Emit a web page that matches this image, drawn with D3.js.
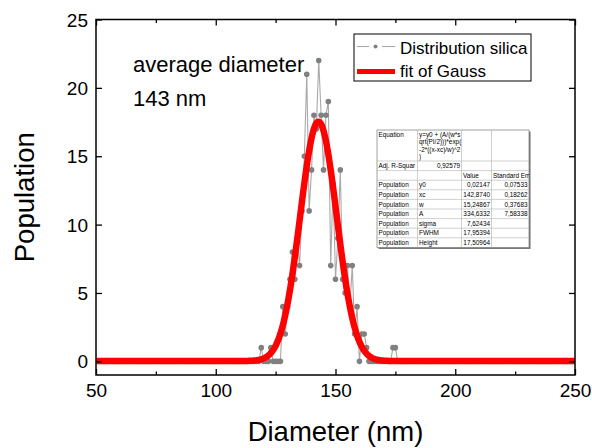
<!DOCTYPE html>
<html>
<head>
<meta charset="utf-8">
<script src="https://cdn.jsdelivr.net/npm/d3@7/dist/d3.min.js"></script>
<style>
  body { margin: 0; background: #fff; }
  svg { display: block; font-family: Arial, 'Liberation Sans', sans-serif; }
</style>
</head>
<body>
<div id="main"></div>
<script>
// histogram: one count per nm, 50..250
const diameters = d3.range(50, 251);
const counts = [
  0, 0, 0, 0, 0, 0, 0, 0, 0, 0, 0, 0, 0, 0, 0, 0, 0, 0, 0, 0, // 50-69
  0, 0, 0, 0, 0, 0, 0, 0, 0, 0, 0, 0, 0, 0, 0, 0, 0, 0, 0, 0, // 70-89
  0, 0, 0, 0, 0, 0, 0, 0, 0, 0, 0, 0, 0, 0, 0, 0, 0, 0, 0, 0, // 90-109
  0, 0, 0, 0, 0, 0, 0, 0, 0, 1, 0, 0, 0, 1, 0, 0, 0, 0, 4, 2, // 110-129
  4, 6, 8, 6, 9, 7, 11, 15, 21, 11, 14, 18, 17, 22, 18, 14, 18, 19, 7, 13, // 130-149
  6, 9, 14, 6, 5, 7, 4, 7, 2, 4, 0, 2, 2, 1, 0, 0, 0, 0, 0, 0, // 150-169
  0, 0, 0, 0, 1, 1, 0, 0, 0, 0, 0, 0, 0, 0, 0, 0, 0, 0, 0, 0, // 170-189
  0, 0, 0, 0, 0, 0, 0, 0, 0, 0, 0, 0, 0, 0, 0, 0, 0, 0, 0, 0, // 190-209
  0, 0, 0, 0, 0, 0, 0, 0, 0, 0, 0, 0, 0, 0, 0, 0, 0, 0, 0, 0, // 210-229
  0, 0, 0, 0, 0, 0, 0, 0, 0, 0, 0, 0, 0, 0, 0, 0, 0, 0, 0, 0, // 230-249
  0 // 250
];

// Gauss fit parameters (from the fit table)
const fitY0 = 0.02147;
const fitXc = 142.874;
const fitW = 15.24867;
const fitA = 334.6332;

const xTicks = [50, 100, 150, 200, 250];
const xMinorTicks = [75, 125, 175, 225];
const yTicks = [0, 5, 10, 15, 20, 25];

const legendLabels = ['Distribution silica', 'fit of Gauss'];
const noteLines = ['average diameter', '143 nm'];

const tableRows = [
  ['Equation', 'y=y0 + (A/(w*s|qrt(PI/2)))*exp(|-2*((x-xc)/w)^2|)', '', ''],
  ['Adj. R-Squar', '0,92579', '', ''],
  ['', '', 'Value', 'Standard Err'],
  ['Population', 'y0', '0,02147', '0,07533'],
  ['Population', 'xc', '142,8740', '0,18262'],
  ['Population', 'w', '15,24867', '0,37683'],
  ['Population', 'A', '334,6332', '7,58338'],
  ['Population', 'sigma', '7,62434', ''],
  ['Population', 'FWHM', '17,95394', ''],
  ['Population', 'Height', '17,50964', '']
];

function gauss(x) {
  const k = (x - fitXc) / fitW;
  return fitY0 + (fitA / (fitW * Math.sqrt(Math.PI / 2))) * Math.exp(-2 * k * k);
}

function main() {
  const width = 592;
  const height = 448;
  const left = 96, right = 575, top = 19.5, bottom = 375;

  const xScale = d3.scaleLinear().domain([50, 250]).range([left, right]);
  const yScale = d3.scaleLinear().domain([-1, 25]).range([bottom, top]);

  const svg = d3.select('#main').append('svg')
    .attr('width', width)
    .attr('height', height);

  svg.append('clipPath').attr('id', 'plotclip')
    .append('rect')
    .attr('x', left).attr('y', top)
    .attr('width', right - left).attr('height', bottom - top);

  const plot = svg.append('g').attr('clip-path', 'url(#plotclip)');

  // data series
  const pts = diameters.map((d, i) => [d, counts[i]]);
  const line = d3.line().x(d => xScale(d[0])).y(d => yScale(d[1]));

  plot.append('path')
    .datum(pts)
    .attr('d', line)
    .attr('fill', 'none')
    .attr('stroke', '#a9a9a9')
    .attr('stroke-width', 1.1);

  plot.selectAll('circle.pt')
    .data(pts)
    .enter()
    .append('circle')
    .attr('class', 'pt')
    .attr('cx', d => xScale(d[0]))
    .attr('cy', d => yScale(d[1]))
    .attr('r', 2.8)
    .attr('fill', '#808080');

  // fit curve
  const fitPts = d3.range(50, 250.01, 0.25).map(x => [x, gauss(x)]);
  plot.append('path')
    .datum(fitPts)
    .attr('d', line)
    .attr('fill', 'none')
    .attr('stroke', '#ff0000')
    .attr('stroke-width', 6.5)
    .attr('stroke-linejoin', 'round');

  // axes (ticks point inward)
  const bottomAxis = svg.append('g')
    .attr('transform', `translate(0,${bottom})`)
    .call(d3.axisBottom(xScale).tickValues(xTicks).tickSizeInner(-6).tickSizeOuter(0).tickPadding(9));
  svg.append('g')
    .attr('transform', `translate(0,${bottom})`)
    .call(d3.axisBottom(xScale).tickValues(xMinorTicks).tickSizeInner(-3.5).tickSizeOuter(0).tickFormat(''));
  svg.append('g')
    .attr('transform', `translate(0,${top})`)
    .call(d3.axisTop(xScale).tickValues(xTicks).tickSizeInner(-6).tickSizeOuter(0).tickFormat(''));
  svg.append('g')
    .attr('transform', `translate(0,${top})`)
    .call(d3.axisTop(xScale).tickValues(xMinorTicks).tickSizeInner(-3.5).tickSizeOuter(0).tickFormat(''));
  const leftAxis = svg.append('g')
    .attr('transform', `translate(${left},0)`)
    .call(d3.axisLeft(yScale).tickValues(yTicks).tickSizeInner(-6).tickSizeOuter(0).tickPadding(8));
  svg.append('g')
    .attr('transform', `translate(${right},0)`)
    .call(d3.axisRight(yScale).tickValues(yTicks).tickSizeInner(-6).tickSizeOuter(0).tickFormat(''));

  svg.selectAll('.domain').remove();
  svg.selectAll('.tick line').attr('stroke', '#000').attr('stroke-width', 1.3);
  bottomAxis.selectAll('text').style('font-size', '19px').attr('fill', '#000');
  leftAxis.selectAll('text').style('font-size', '19px').attr('fill', '#000').attr('dy', '0.35em');

  svg.append('rect')
    .attr('x', left).attr('y', top)
    .attr('width', right - left).attr('height', bottom - top)
    .attr('fill', 'none')
    .attr('stroke', '#000')
    .attr('stroke-width', 1.5);

  // axis titles
  svg.append('text')
    .attr('x', (left + right) / 2)
    .attr('y', 441)
    .style('font-size', '27.5px')
    .style('text-anchor', 'middle')
    .text('Diameter (nm)');

  svg.append('text')
    .attr('transform', `translate(34,${(top + bottom) / 2}) rotate(-90)`)
    .style('font-size', '27.5px')
    .style('text-anchor', 'middle')
    .text('Population');

  // note
  svg.selectAll('text.note')
    .data(noteLines)
    .enter()
    .append('text')
    .attr('class', 'note')
    .attr('x', 133)
    .attr('y', (d, i) => 72 + i * 34)
    .style('font-size', '22px')
    .text(d => d);

  // legend
  const lg = svg.append('g');
  lg.append('rect')
    .attr('x', 354).attr('y', 34)
    .attr('width', 177).attr('height', 47)
    .attr('fill', '#fff')
    .attr('stroke', '#000')
    .attr('stroke-width', 1);
  lg.append('line').attr('x1', 357).attr('x2', 369).attr('y1', 46.5).attr('y2', 46.5)
    .attr('stroke', '#a9a9a9').attr('stroke-width', 1.1);
  lg.append('line').attr('x1', 382).attr('x2', 395).attr('y1', 46.5).attr('y2', 46.5)
    .attr('stroke', '#a9a9a9').attr('stroke-width', 1.1);
  lg.append('circle').attr('cx', 375.5).attr('cy', 46.5).attr('r', 2).attr('fill', '#808080');
  lg.append('line').attr('x1', 357).attr('x2', 395).attr('y1', 71.5).attr('y2', 71.5)
    .attr('stroke', '#ff0000').attr('stroke-width', 5);
  lg.selectAll('text')
    .data(legendLabels)
    .enter()
    .append('text')
    .attr('x', 400)
    .attr('y', (d, i) => 54 + i * 23)
    .style('font-size', '17px')
    .text(d => d);

  // fit table
  const colX = [377, 417.5, 461.5, 491.5, 529];
  const rowH = [31].concat(d3.range(tableRows.length - 1).map(() => 9.6));
  const rowY = [130];
  rowH.forEach((h, i) => rowY.push(rowY[i] + h));
  const tb = svg.append('g').style('font-size', '6.4px');
  tb.append('rect')
    .attr('x', colX[0] + 1.5).attr('y', rowY[0] + 1.5)
    .attr('width', colX[4] - colX[0]).attr('height', rowY[rowY.length - 1] - rowY[0])
    .attr('fill', '#6a6a6a');
  tb.append('rect')
    .attr('x', colX[0]).attr('y', rowY[0])
    .attr('width', colX[4] - colX[0]).attr('height', rowY[rowY.length - 1] - rowY[0])
    .attr('fill', '#fff')
    .attr('stroke', '#8a8a8a')
    .attr('stroke-width', 0.8);
  tableRows.forEach((row, r) => {
    if (r > 0) {
      tb.append('line')
        .attr('x1', colX[0]).attr('x2', colX[4])
        .attr('y1', rowY[r]).attr('y2', rowY[r])
        .attr('stroke', '#b0b0b0').attr('stroke-width', 0.6);
    }
    row.forEach((cell, c) => {
      if (!cell) return;
      const lines = cell.split('|');
      const rightAlign = (c >= 2 && r >= 3) || (r === 1 && c === 1);
      lines.forEach((txt, k) => {
        tb.append('text')
          .attr('x', rightAlign ? colX[c + 1] - 1.5 : colX[c] + 1.5)
          .attr('y', rowY[r] + 7.2 + k * 7.2)
          .style('text-anchor', rightAlign ? 'end' : 'start')
          .text(txt);
      });
    });
  });
  colX.slice(1, 4).forEach(x => {
    tb.append('line')
      .attr('x1', x).attr('x2', x)
      .attr('y1', rowY[0]).attr('y2', rowY[rowY.length - 1])
      .attr('stroke', '#b0b0b0').attr('stroke-width', 0.6);
  });
}

main();
</script>
</body>
</html>
